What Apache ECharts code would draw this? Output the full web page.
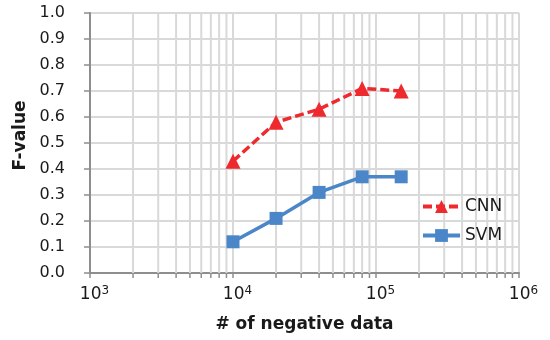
<!DOCTYPE html>
<html>
<head>
<meta charset="utf-8">
<script src="https://cdn.jsdelivr.net/npm/echarts@6/dist/echarts.min.js"></script>
<style>
html,body{margin:0;padding:0;background:#fff;}
#chart{width:550px;height:340px;}
</style>
</head>
<body>
<div id="chart"></div>
<script>
// Data
const xValues = [10000, 20000, 40000, 80000, 150000];
const cnnValues = [0.43, 0.58, 0.63, 0.71, 0.70];
const svmValues = [0.12, 0.21, 0.31, 0.37, 0.37];
const seriesNames = ['CNN', 'SVM'];
const xTickExponents = { 1000: 3, 10000: 4, 100000: 5, 1000000: 6 };
const minorXValues = [2000, 3000, 4000, 5000, 6000, 7000, 8000, 9000,
  20000, 30000, 40000, 50000, 60000, 70000, 80000, 90000,
  200000, 300000, 400000, 500000, 600000, 700000, 800000, 900000];
const xAxisTitle = '# of negative data';
const yAxisTitle = 'F-value';

const FONT = 'DejaVu Sans';
const GRID_COLOR = '#D9D9D9';
const AXIS_COLOR = '#8E8E8E';
const RED = '#EE2A2E';
const BLUE = '#4A86C8';

const chart = echarts.init(document.getElementById('chart'), null, { renderer: 'canvas' });

const option = {
  animation: false,
  backgroundColor: '#fff',
  textStyle: { fontFamily: FONT },
  grid: { left: 90, right: 31, top: 13, bottom: 67, containLabel: false },
  legend: {
    orient: 'vertical',
    left: 421,
    top: 198,
    padding: 0,
    itemWidth: 37,
    itemHeight: 16,
    itemGap: 12,
    data: seriesNames,
    lineStyle: { width: 4 },
    textStyle: { fontFamily: FONT, fontSize: 17, color: '#1a1a1a' }
  },
  xAxis: {
    type: 'log',
    logBase: 10,
    min: 1000,
    max: 1000000,
    name: xAxisTitle,
    nameLocation: 'middle',
    nameGap: 43,
    nameTextStyle: { fontFamily: FONT, fontSize: 17, fontWeight: 'bold', color: '#1a1a1a' },
    axisLine: { show: true, lineStyle: { color: AXIS_COLOR, width: 2 } },
    axisTick: { show: true, length: 5, lineStyle: { color: AXIS_COLOR, width: 1.5 } },
    splitLine: { show: true, lineStyle: { color: GRID_COLOR, width: 2 } },
    axisLabel: {
      margin: 12,
      formatter: function (v) {
        const e = xTickExponents[Math.round(v)];
        return '{b|10}{s|' + e + '}';
      },
      rich: {
        b: { fontFamily: FONT, fontSize: 17, color: '#1a1a1a', padding: [0, 0, 0, 9] },
        s: { fontFamily: FONT, fontSize: 12, color: '#1a1a1a', verticalAlign: 'top', padding: [0, 0, 8, 0] }
      }
    }
  },
  yAxis: {
    type: 'value',
    min: 0,
    max: 1,
    interval: 0.1,
    name: yAxisTitle,
    nameLocation: 'middle',
    nameRotate: 90,
    nameGap: 58,
    nameTextStyle: { fontFamily: FONT, fontSize: 17, fontWeight: 'bold', color: '#1a1a1a', padding: [0, 0, 0, 15] },
    axisLine: { show: true, lineStyle: { color: AXIS_COLOR, width: 2 } },
    axisTick: { show: true, length: 6, lineStyle: { color: AXIS_COLOR, width: 1.5 } },
    splitLine: { show: true, lineStyle: { color: GRID_COLOR, width: 2 } },
    axisLabel: {
      margin: 25,
      fontFamily: FONT,
      fontSize: 16,
      color: '#1a1a1a',
      formatter: function (v) { return v.toFixed(1); }
    }
  },
  series: [
    {
      type: 'custom',
      name: 'minorGrid',
      silent: true,
      z: 1,
      clip: false,
      data: minorXValues.map(function (v) { return [v]; }),
      encode: { x: 0 },
      renderItem: function (params, api) {
        const xv = api.value(0);
        const top = api.coord([xv, 1]);
        const bottom = api.coord([xv, 0]);
        return {
          type: 'group',
          children: [
            {
              type: 'line',
              shape: { x1: top[0], y1: top[1], x2: bottom[0], y2: bottom[1] },
              style: { stroke: GRID_COLOR, lineWidth: 2 }
            },
            {
              type: 'line',
              shape: { x1: bottom[0], y1: bottom[1], x2: bottom[0], y2: bottom[1] + 5 },
              style: { stroke: AXIS_COLOR, lineWidth: 1.5 }
            }
          ]
        };
      },
      tooltip: { show: false }
    },
    {
      name: seriesNames[0],
      type: 'line',
      z: 3,
      data: xValues.map(function (x, i) { return [x, cnnValues[i]]; }),
      symbol: 'triangle',
      symbolSize: 15,
      itemStyle: { color: RED },
      lineStyle: { color: RED, width: 3.5, type: [9, 4] }
    },
    {
      name: seriesNames[1],
      type: 'line',
      z: 3,
      data: xValues.map(function (x, i) { return [x, svmValues[i]]; }),
      symbol: 'rect',
      symbolSize: 13,
      itemStyle: { color: BLUE },
      lineStyle: { color: BLUE, width: 3.5 }
    }
  ]
};

chart.setOption(option);
</script>
</body>
</html>
